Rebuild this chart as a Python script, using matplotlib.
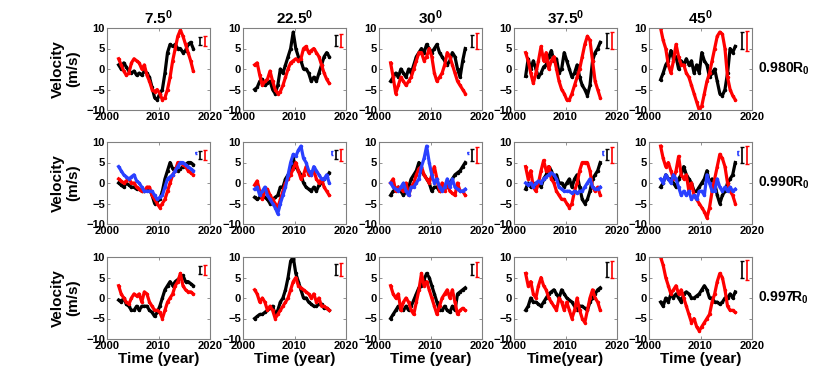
import matplotlib
matplotlib.use('Agg')
import matplotlib.pyplot as plt
import numpy as np

plt.rcParams['font.family'] = ['Liberation Sans', 'DejaVu Sans']
plt.rcParams['mathtext.fontset'] = 'custom'
plt.rcParams['mathtext.rm'] = 'Liberation Sans:bold'
plt.rcParams['mathtext.bf'] = 'Liberation Sans:bold'
plt.rcParams['mathtext.default'] = 'bf'

# shared time axis (years)
years = [2002.25, 2002.75, 2003.25, 2003.75, 2004.25, 2004.75, 2005.25, 2005.75,
         2006.25, 2006.75, 2007.25, 2007.75, 2008.25, 2008.75, 2009.25, 2009.75,
         2010.25, 2010.75, 2011.25, 2011.75, 2012.25, 2012.75, 2013.25, 2013.75,
         2014.25, 2014.75, 2015.25, 2015.75, 2016.25, 2016.75]

latitudes = ['7.5', '22.5', '30', '37.5', '45']
depths = ['0.980', '0.990', '0.997']
xlabels = ['Time (year)', 'Time (year)', 'Time (year)', 'Time(year)', 'Time (year)']

# ---- row 1 : 0.980 R0 ----
black_980 = [
    [1, 0, 1.5, 0.5, -0.5, -1, -0.5, -1.5, -1, -1.5, -0.5, -1, -2, -4.5, -7, -7.5, -6, -5, -1, 4, 6, 5.5, 6, 5, 5, 4, 4.5, 6, 6.5, 5],
    [-5, -4.5, -3, -2.5, -4, -3.5, -3, -5, -6, -4, 0, -1, 1, 3, 5, 9, 5, 3, 2, 0, 0, -1, -3, -2, -3, -1, 1, 3, 4, 3],
    [-3, -2, -1, -2, 0, -1, -2, 0, -1, 1, 3, 4, 5, 4, 6, 5, 4, 5, 6, 4, 3, 2, 1, 2, 4, 3, 0, -2, 2, 5],
    [-1.8, 2.5, 0, 2, 0, -2, -1, 0.5, 1, 3, 4.5, 2, 2.5, -1, 0, 4, 2, 0, -2, -1, 1, -2, -4, -5, -6.5, -4, 2, 4, 5, 6.5],
    [-2.6, -1, 1, 2, 4.5, 2.5, 3, 0, 2, 1, 2.5, 1, 2, -1, 1, -1, 4, 2, 1, -2, -1, 0, -3, -6, -6.5, -5, -1, 5, 4, 5.5],
]
red_980 = [
    [2.5, 1, -0.5, -1.5, -1, 1.5, 2.5, 2, 1.5, 0, 1, -1.5, -3, -5, -5.5, -5, -6, -7.5, -7, -5, -2, 2, 5, 8, 9.5, 8, 6, 4, 2, -0.5],
    [1, 1.5, -1.5, -4, -3, -2.5, -0.5, -3, -5, -6, -5.5, -4, -2, 0, 1.5, 2, 2.5, 2, 2.5, 5, 5.5, 4, 4.5, 5, 4, 3, 1, -1, -2.5, -3.5],
    [1.5, -2, -6, -4, -2, -3, -4, -3, -2, 0, 2, 4, 4, 2, 3, 5, 3, -1, -3, -2, -1, 1, 4, 3, 1, -1, -3, -4, -5, -6],
    [4, 2, -1, -3.5, -1, 2, 5.5, 2, 4, 0, 2, 3, 0, -3, -5, -6, -7.5, -7.5, -6, -4, -2, 0, 3, 6, 8, 7, 2, -3, -5, -7],
    [10, 7, 5, 1, -1, 2, 6, 3, 1, 1, -1, -2, -4, -6, -8, -10, -9, -6, -3, -1, 2, 5, 8, 9, 8.5, 5, -2, -5, -6.5, -7.5],
]

# ---- row 2 : 0.990 R0 ----
black_990 = [
    [0, -0.5, -1, 0, -0.5, -1, -1, -1.5, -1.5, -2, -2, -1.5, -1.5, -3, -5, -4.5, -4, -2, 1, 3, 5, 3.5, 3.5, 3, 3.5, 4, 4.5, 5, 5, 4.5],
    [-3.5, -4, -3.5, -3, -3.5, -4, -5, -4, -3.5, -3, -1, -1, 1, 2, 3, 6, 4, 3, 2, 0, -1, -1.5, -2, -1, -2, -0.5, 0, 1, 1.5, 2.5],
    [-3, -2, -1.5, -1, -2, -3, -2, -1, 1, 2, 3, 5, 3, 2, 1, 0, -2, -1, -1, -2, -1.5, -1, -1, 0, 1, 2, 2.5, 3, 4, 5],
    [-1.5, 0, -1, 0, -1, 0, -1, 1, 2, 4, 3, 1, 2, 0, 0, -1, 0, 1, -1, 1, 2, -1, -4, -5, -4, -2, 1, 2, 3, 5],
    [-1, 0, 2, 1, 1, 0, -1, 1, 2, 4, 2, 1, 0, -2, -2, -1, 0, 1, 3, 0, 1, 0, -3, -5, -3, -2, 0, 1, 2, 5],
]
red_990 = [
    [1, 0.5, 0, 0.5, 1, 0, 0, -1, -1.5, -2, -2, -1, -1, -3, -4, -5, -6, -5, -4, -2, 0, 2, 3, 5, 5, 4.5, 4, 3, 2.5, 2],
    [-0.5, 0.5, -2, -4, -2, -1.5, -3, -4, -5, -6, -4, -2, 0, 1, 2, 3.5, 5, 3, 1, 2, 4, 2, 2, 3, 1, 0, 1, -1, -2, -3],
    [0, 1, -2, -1, -1.5, -2, 0, -3, -1, 0, 2, 3.5, 4, 2, 1, 0, 2, 4, 1, -2, 0, -2, 0, -2, -2.5, -3, 0, -2, -2, -3],
    [4, 1, 3, -1, -2, 0, 3, 5.5, 3, 4, 1, 0, -2, -3, -4, -4, -5, -6, -5, -2, 0, 3, 5, 5, 5, 3, -1, -2, -1, -3],
    [9, 6, 4, 5, 3, 1, 3, 6.5, 2, 1, 2, -2, 0, -3, -4, -5, -6, -7, -8.5, -6, -2, 1, 4, 7, 6, 4, 0, -2, -3, -5],
]
blue_990 = [
    [4, 3, 2, 1.5, 1, 1.5, 2, 0.5, 0, -1, -2, -2, -2, -2, -3, -4, -3.5, -3, -1, 1, 1.5, 2, 3, 4, 5, 5, 4.5, 4, 3.5, 3],
    [-1.5, -1, -3, -2, -1, -3, -4, -5, -6, -7.5, -5, -3, -1, 2, 5, 7, 6.5, 8, 9, 6, 5, 3, 2, 4, 3, 2, 1, 1, 2, 0],
    [0, -1, -1.5, -2, -1, 0, -2, -3, -1, -1, 0, 1, 4, 6, 9, 5, 2, 0, 1, -1, -2, -1, 1, -1, 1, -1, -1.5, -2, -2, -1.5],
    [0, -0.5, 0, -1, 0, 0.5, 0, 1, 1.5, 2, 2.5, 2, 1, -1, -1.5, -2, -2, -2, -2.5, -2, -2.5, -2, -2, -1, 0, 1, -1, -1.5, -1.5, -1],
    [1, 0, 2, 1, 0, 2, 1, -1, -3, -2, -3, -2, -4, -3, -4, -2, -2, -3, 2, 0, -2, -2, 1, -1, -2, -1, -2, -1, -2, -1.5],
]

# ---- row 3 : 0.997 R0 ----
black_997 = [
    [-0.5, -1, 0, -1.5, -2, -3, -3, -2, -3, -2, -2, -2, -3, -3.5, -4.5, -3.5, -2, 0, 2, 3, 4, 3, 4, 4.5, 5, 5.5, 4, 4, 3.5, 3],
    [-5, -4.5, -4, -4, -3.5, -3, -2.5, -2, -4, -3, -1, 0, 2, 5, 9, 10, 6, 4, 2, 0, 0, -1, -1.5, -2, -2, -1.5, -1.5, -2.5, -2.5, -3],
    [-5, -4, -3, -2, -3, -3, -2, -3, -2, -0.5, 1, 2.5, 3, 4.5, 6, 5, 3, 1, -1, -3, -3, -2, -3, -3.5, -2, -3, 1, 1.5, 2, 2.5],
    [-3, -2, 0, -1, -1, -1.5, -2, -1, 0, 1, 1.5, 2, 1, 0, 2, 1, 0, -0.5, -1, -2, -3, -2, -2, -2.5, -3, -1, 0, 1, 2, 2.5],
    [-1, -2, 0, -1, 1, 0, 1, 0, -1, 1, 1.5, 1, 0, 0, 0.5, 1, 2, 3, 2, 0, 0, -1, -1, -1.5, -1, 0, 0, 1, 0, 1.5],
]
red_997 = [
    [3, 1, 0, -1, -1.5, 0, 1, 0.5, 1, -1, 1.5, 1, -1, -2, -3, -3, -3.5, -5, -3, -1, 0, 1, 3, 4, 6, 3, 2, 1.5, 1.5, 1],
    [2, 1, -1, 0, -1, -3, -2, -3, -5, -4, -3, -2, -1, 0, 2, 4, 5, 3, 2.5, 2, 1.5, 1, 0, 1, -1, 0, -2, -2, -2.5, -3],
    [3, 1, 0, 1, -3, -1, 0, -1, -3, -4, -1, 2, 6, 3, 4, 2, 0, -2, -4, -2, 0, 1, 2, 0, 2, -1, -4, -3, -2.5, -3],
    [6, 3, 4, 1, 0, 3, 5, 3, 2, 0, -1, -2, -3, 0, -1, -3, -1, -3, -5, -3, 0, -3, -5, -6, -3, 0, 2, 0, -1, -3],
    [10, 8, 5, 3, 1, 2, 3, 1, 2, 0, -2, -4, -6, -5, -7, -8, -7, -6, -5, -4, -1, 1, 4, 6, 5, 2, -2, -3, -3, -3.5],
]

# error bar half-lengths (m/s) per panel: black, red, blue
err_black = [[1.0, 1.4, 1.5, 1.8, 2.1], [1.0, 1.1, 1.5, 1.4, 1.9], [1.0, 1.4, 1.4, 1.8, 2.1]]
err_red = [[1.2, 1.6, 2.0, 2.1, 2.4], [1.2, 1.5, 2.0, 1.9, 2.2], [1.2, 1.6, 1.8, 2.1, 2.4]]
err_blue = [0.2, 0.4, 0.3, 0.4, 0.4]

blacks = [black_980, black_990, black_997]
reds = [red_980, red_990, red_997]

W, H = 830, 382
fig = plt.figure(figsize=(W / 100, H / 100), dpi=100)
lefts = [107, 243, 379, 514, 649]
tops = [28, 142, 257]
aw, ah = 103, 82

blue_c = '#2a40ff'
frame_c = '#808080'

for r in range(3):
    for c in range(5):
        ax = fig.add_axes([lefts[c] / W, 1 - (tops[r] + ah) / H, aw / W, ah / H])
        ax.plot(years, blacks[r][c], color='k', lw=2.3, marker='.', ms=3, zorder=2)
        ax.plot(years, reds[r][c], color='red', lw=2.3, marker='.', ms=3, zorder=2)
        if r == 1:
            ax.plot(years, blue_990[c], color=blue_c, lw=2.3, marker='.', ms=3, zorder=3)
            ax.errorbar([2017.2], [7.3], yerr=[err_blue[c]], color=blue_c, lw=1.2,
                        capsize=1, capthick=1)
        ax.errorbar([2018.1], [6.9], yerr=[err_black[r][c]], color='k', lw=1.2,
                    capsize=1.5, capthick=1)
        ax.errorbar([2019.0], [6.9], yerr=[err_red[r][c]], color='red', lw=1.2,
                    capsize=1.5, capthick=1)

        ax.set_xlim(2000, 2020)
        ax.set_ylim(-10, 10)
        ax.set_xticks([2000, 2010, 2020])
        ax.set_yticks([-10, -5, 0, 5, 10])
        ax.tick_params(direction='in', length=2, width=0.6, color=frame_c,
                       labelsize=8, pad=1.5, top=True, right=True)
        for lab in ax.get_xticklabels() + ax.get_yticklabels():
            lab.set_fontweight('bold')
        for s in ax.spines.values():
            s.set_color(frame_c)
            s.set_linewidth(0.8)

        if r == 0:
            ax.set_title(latitudes[c] + r'$^{0}$', fontsize=11, fontweight='bold', pad=3)
        if c == 0:
            ax.set_ylabel('Velocity\n(m/s)', fontsize=11, fontweight='bold', labelpad=4,
                          linespacing=1.1)
        if c == 4:
            ax.text(1.06, 0.5, depths[r] + r'R$_0$', transform=ax.transAxes,
                    ha='left', va='center', fontsize=10, fontweight='bold')
        if r == 2:
            ax.set_xlabel(xlabels[c], fontsize=11, fontweight='bold', labelpad=1)

fig.savefig('out.png', dpi=100)
